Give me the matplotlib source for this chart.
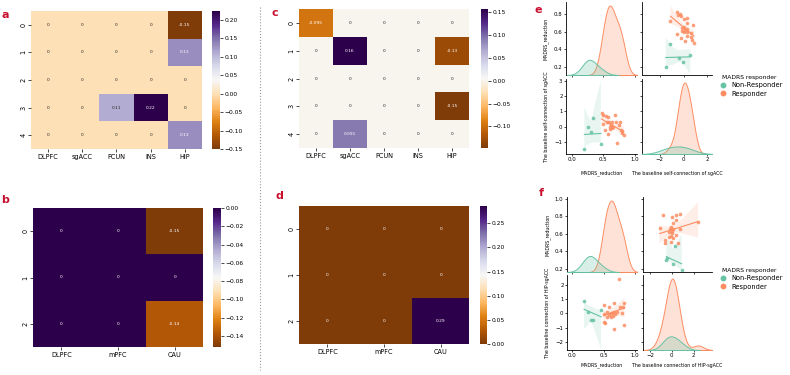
import matplotlib
matplotlib.use("Agg")
import matplotlib.pyplot as plt
from matplotlib.lines import Line2D
import numpy as np
import pandas as pd
import seaborn as sns

# heatmap data
cols_5 = ["DLPFC", "sgACC", "PCUN", "INS", "HIP"]
cols_3 = ["DLPFC", "mPFC", "CAU"]

a_vals = [[0, 0, 0, 0, -0.15],
          [0, 0, 0, 0, 0.13],
          [0, 0, 0, 0, 0],
          [0, 0, 0.11, 0.223, 0],
          [0, 0, 0, 0, 0.13]]
b_vals = [[0, 0, -0.152],
          [0, 0, 0],
          [0, 0, -0.137]]
c_vals = [[-0.095, 0, 0, 0, 0],
          [0, 0.156, 0, 0, -0.13],
          [0, 0, 0, 0, 0],
          [0, 0, 0, 0, -0.147],
          [0, 0.091, 0, 0, 0]]
d_vals = [[0, 0, 0],
          [0, 0, 0],
          [0, 0, 0.286]]

# scatter data (panel e)
e_nr_madrs = [0.20, 0.25, 0.30, 0.33, 0.46]
e_nr_sgacc = [-1.50, -0.05, -0.38, 0.57, -1.12]
e_r_madrs = [0.47, 0.50, 0.54, 0.58, 0.63, 0.68, 0.49, 0.55, 0.59, 0.60, 0.62, 0.61,
             0.64, 0.70, 0.76, 0.74, 0.78, 0.80, 0.79, 0.82, 0.57, 0.72, 0.53, 0.65]
e_r_sgacc = [0.89, 0.73, 0.67, 0.60, 0.33, 0.78, 0.16, 0.33, 0.33, 0.00, 0.11, -0.16,
             -0.11, 0.33, 0.33, 0.07, -0.22, -0.29, -0.44, -0.56, -0.51, -1.10, -0.20, 0.00]

# scatter data (panel f)
f_nr_madrs = [0.19, 0.26, 0.30, 0.33, 0.46]
f_nr_hip = [0.90, 0.10, -0.50, -0.48, 0.26]
f_r_madrs = [0.74, 0.50, 0.66, 0.83, 0.59, 0.81, 0.55, 0.61, 0.63, 0.66, 0.72, 0.79,
             0.58, 0.62, 0.65, 0.68, 0.50, 0.53, 0.82, 0.67, 0.51, 0.56, 0.76]
f_r_hip = [2.40, 0.59, 0.71, 0.75, 0.42, 0.42, 0.12, 0.05, 0.00, 0.07, 0.12, 0.05,
           -0.12, -0.24, -0.16, -0.07, -0.59, -0.66, -0.82, -1.13, -0.05, -0.24, 0.42]

HUE = "MADRS responder"
groups = ["Non-Responder", "Responder"]
pal = ["#66c2a5", "#fc8d62"]
RED = "#c8102e"

W, H = 790, 375
fig = plt.figure(figsize=(W / 100, H / 100), dpi=100)


def box(x0, y0, x1, y1):
    return [x0 / W, 1 - y1 / H, (x1 - x0) / W, (y1 - y0) / H]


def draw_heatmap(vals, cols, hm, cb, vmin, vmax, cticks):
    ax = fig.add_axes(box(*hm))
    cax = fig.add_axes(box(*cb))
    sns.heatmap(np.array(vals), ax=ax, cbar_ax=cax, cmap="PuOr", vmin=vmin, vmax=vmax,
                annot=True, annot_kws={"size": 3.2}, xticklabels=cols,
                yticklabels=list(range(len(vals))))
    ax.tick_params(labelsize=4.7, length=2, width=0.5, pad=1.5)
    ax.set_xticklabels(cols, rotation=0)
    ax.set_yticklabels(ax.get_yticklabels(), rotation=90, va="center")
    cax.set_yticks(cticks)
    cax.tick_params(labelsize=4.3, length=2, width=0.5, pad=1.5)
    return ax


draw_heatmap(a_vals, cols_5, (31, 11, 202, 149), (212, 11, 220, 149), -0.15, 0.223,
             [-0.15, -0.10, -0.05, 0.0, 0.05, 0.10, 0.15, 0.20])
draw_heatmap(b_vals, cols_3, (33, 208, 203, 347), (213, 208, 221, 347), -0.152, 0.0,
             [-0.14, -0.12, -0.10, -0.08, -0.06, -0.04, -0.02, 0.0])
draw_heatmap(c_vals, cols_5, (299, 9, 469, 148), (481, 9, 488, 148), -0.147, 0.156,
             [-0.10, -0.05, 0.0, 0.05, 0.10, 0.15])
draw_heatmap(d_vals, cols_3, (299, 206, 469, 344), (480, 206, 487, 344), 0.0, 0.286,
             [0.0, 0.05, 0.10, 0.15, 0.20, 0.25])


def make_df(nr_x, nr_y, r_x, r_y, yname):
    return pd.DataFrame({
        "MADRS_reduction": nr_x + r_x,
        yname: nr_y + r_y,
        HUE: [groups[0]] * len(nr_x) + [groups[1]] * len(r_x),
    })


def draw_pair(df, var2, cols, rows, xlims, ylims, xticks, yticks, xlab_y, seed):
    vars_ = ["MADRS_reduction", var2]
    axes = [[fig.add_axes(box(cols[j][0], rows[i][0], cols[j][1], rows[i][1]))
             for j in range(2)] for i in range(2)]
    for i in range(2):
        for j in range(2):
            ax = axes[i][j]
            if i == j:
                tw = ax.twinx()
                sns.kdeplot(data=df, x=vars_[i], hue=HUE, hue_order=groups, palette=pal,
                            fill=True, ax=tw, legend=False, linewidth=0.7, bw_adjust=1.3)
                tw.set_axis_off()
                tw.set_ylim(bottom=0)
            else:
                for k, g in enumerate(groups):
                    sub = df[df[HUE] == g]
                    sns.regplot(data=sub, x=vars_[j], y=vars_[i], ax=ax, color=pal[k],
                                scatter_kws={"s": 7, "linewidths": 0, "alpha": 0.85},
                                line_kws={"lw": 0.8}, seed=seed)
            ax.set_xlim(xlims[j])
            ax.set_ylim(ylims[i])
            ax.set_xticks(xticks[j])
            ax.set_yticks(yticks[i])
            ax.set_xlabel("")
            ax.set_ylabel("")
            ax.spines[["top", "right"]].set_visible(False)
            for s in ["left", "bottom"]:
                ax.spines[s].set_linewidth(0.6)
            ax.tick_params(labelsize=3.9, length=1.5, width=0.5, pad=1,
                           labelleft=(j == 0), labelbottom=(i == 1))
    for i in range(2):
        axes[i][0].set_ylabel(vars_[i], fontsize=3.4)
        axes[i][0].yaxis.set_label_coords(-0.24, 0.5)
        axes[1][i].set_xlabel(vars_[i], fontsize=3.4)
        axes[1][i].xaxis.set_label_coords(0.5, xlab_y)
    return axes


e_var = "The baseline self-connection of sgACC"
f_var = "The baseline connection of HIP-sgACC"
df_e = make_df(e_nr_madrs, e_nr_sgacc, e_r_madrs, e_r_sgacc, e_var)
df_f = make_df(f_nr_madrs, f_nr_hip, f_r_madrs, f_r_hip, f_var)

draw_pair(df_e, e_var, [(566, 637), (642, 712)], [(2, 75), (79, 154)],
          [(-0.09, 1.03), (-3.5, 2.4)], [(0.105, 0.937), (-1.81, 3.13)],
          [[0.0, 0.5, 1.0], [-2, 0, 2]], [[0.2, 0.4, 0.6, 0.8], [-1, 0, 1, 2, 3]],
          -0.22, 1)
draw_pair(df_f, f_var, [(567, 637), (643, 712)], [(197, 272), (275, 350)],
          [(-0.08, 1.03), (-2.64, 3.67)], [(0.166, 1.02), (-2.58, 2.7)],
          [[0.0, 0.5, 1.0], [-2, 0, 2]], [[0.2, 0.4, 0.6, 0.8, 1.0], [-2, -1, 0, 1, 2]],
          -0.17, 2)

handles = [Line2D([], [], marker="o", ls="", color=c, markersize=3.2) for c in pal]
for ytop in (75, 268):
    fig.legend(handles, groups, title=HUE, loc="upper left",
               bbox_to_anchor=(716 / W, 1 - ytop / H), frameon=False, fontsize=4.8,
               title_fontsize=4.3, borderpad=0, borderaxespad=0, handletextpad=0.3,
               labelspacing=0.35)

# panel letters
for txt, x, y in [("a", 5, 15), ("b", 5, 200), ("c", 275, 13), ("d", 279, 196),
                  ("e", 538, 10), ("f", 541, 193)]:
    fig.text(x / W, 1 - y / H, txt, color=RED, fontsize=8, fontweight="bold",
             ha="center", va="center")

fig.add_artist(Line2D([260 / W, 260 / W], [1 - 7 / H, 1 - 370 / H],
                      transform=fig.transFigure, ls=":", color="#999999", lw=0.8))

fig.savefig("out.png", dpi=100)
